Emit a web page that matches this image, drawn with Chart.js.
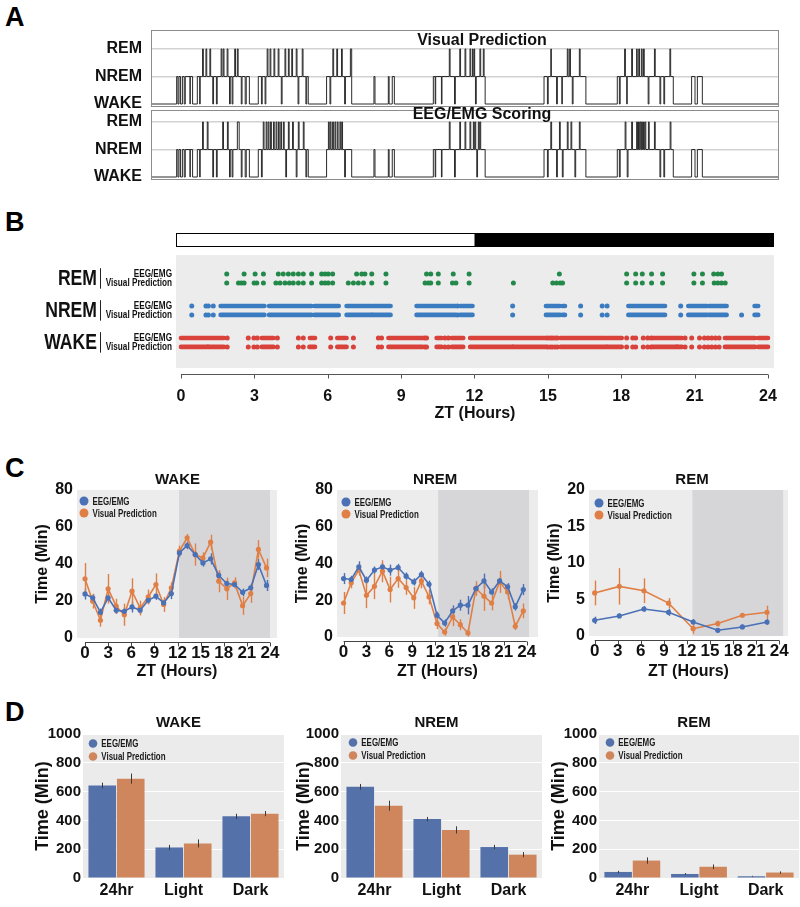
<!DOCTYPE html>
<html><head><meta charset="utf-8">
<script src="https://cdn.jsdelivr.net/npm/chart.js@4.4.1/dist/chart.umd.min.js"></script>
<style>
html,body{margin:0;padding:0;background:#fff;}
#page{position:relative;width:800px;height:907px;overflow:hidden;font-family:"Liberation Sans",Arial,sans-serif;}
#page canvas{position:absolute;left:0;top:0;}
.lab{position:absolute;font-weight:bold;font-size:27px;line-height:27px;color:#000;}
</style></head><body><div id="page">
<div class="lab" style="left:5px;top:4px">A</div>
<div class="lab" style="left:5px;top:209px">B</div>
<div class="lab" style="left:5px;top:455px">C</div>
<div class="lab" style="left:5px;top:699px">D</div>
</div>
<script>
// ================= DATA =================
// Panel A: hypnograms, [time (h), stage] with stage 0=WAKE, 1=NREM, 2=REM
const stageNames = ['WAKE', 'NREM', 'REM'];
const hypnoVisual = [[0,0],
[0.98,1],[1.03,0],[1.07,1],[1.13,0],[1.2,1],[1.27,0],[1.31,1],[1.49,0],[1.5,1],[1.59,0],
[1.77,1],[1.86,0],[1.88,1],[1.97,2],[2.0,1],[2.1,2],[2.13,1],[2.25,2],[2.28,1],[2.36,0],[2.39,1],[2.5,0],[2.53,1],[2.68,2],[2.71,1],[2.76,2],[2.79,1],[2.91,2],[2.94,1],[3.0,0],[3.03,1],[3.1,0],[3.13,1],[3.2,2],[3.23,1],[3.3,2],[3.33,1],[3.45,0],[3.48,1],[3.6,0],[3.64,1],[3.76,0],
[4.10,1],[4.22,0],[4.25,1],[4.36,0],[4.39,1],[4.44,2],[4.47,1],[4.55,2],[4.58,1],[4.7,2],[4.73,1],[4.86,2],[4.89,1],[4.98,0],[5.01,1],[5.12,2],[5.15,1],[5.25,2],[5.28,1],[5.38,2],[5.41,1],[5.55,2],[5.58,1],[5.62,0],[5.65,1],[5.78,2],[5.81,1],[5.92,0],[5.95,1],[6.01,0],
[6.71,1],[6.84,0],[6.87,1],[6.95,2],[6.98,1],[7.1,2],[7.13,1],[7.28,2],[7.31,1],[7.4,0],[7.43,1],[7.62,2],[7.67,0],
[8.52,1],[8.56,0],[9.07,1],[9.1,0],[9.22,1],[9.3,0],
[10.79,1],[10.86,0],[10.88,1],[11.1,0],[11.12,1],[11.4,2],[11.43,1],[11.6,0],[11.63,1],[11.8,2],[11.83,1],[12.0,2],[12.03,1],[12.19,2],[12.22,1],[12.29,2],[12.31,1],[12.35,2],[12.37,1],[12.4,0],[12.43,1],[12.57,2],[12.6,1],[12.7,2],[12.73,1],[12.77,0],
[15.02,1],[15.15,0],[15.18,1],[15.28,2],[15.3,1],[15.5,0],[15.53,1],[15.7,0],[15.72,1],[15.91,2],[15.94,1],[16.0,2],[16.03,1],[16.1,0],[16.13,1],[16.37,2],[16.4,1],[16.62,0],
[17.82,1],[17.9,0],[17.93,1],[18.1,2],[18.13,1],[18.18,0],[18.2,1],[18.37,2],[18.4,1],[18.56,2],[18.58,1],[18.64,2],[18.67,1],[18.74,2],[18.77,1],[18.82,2],[18.85,1],[19.0,0],[19.03,1],[19.24,2],[19.27,1],[19.45,0],[19.48,1],[19.6,0],[19.63,1],[19.83,2],[19.86,1],[19.96,0],
[20.66,1],[20.79,0],[20.88,1],[21.07,0],[24,0]];
const hypnoEEG = [[0,0],
[0.98,1],[1.03,0],[1.07,1],[1.13,0],[1.2,1],[1.27,0],[1.31,1],[1.49,0],[1.5,1],[1.59,0],
[1.77,1],[1.86,0],[1.88,1],[1.97,2],[2.0,1],[2.15,2],[2.18,1],[2.36,0],[2.39,1],[2.5,0],[2.53,1],[2.74,2],[2.77,1],[2.92,2],[2.95,1],[3.0,0],[3.03,1],[3.1,0],[3.13,1],[3.3,2],[3.37,1],[3.45,0],[3.48,1],[3.6,0],[3.64,1],[3.76,0],
[4.10,1],[4.22,0],[4.25,1],[4.29,2],[4.32,1],[4.4,2],[4.43,1],[4.48,2],[4.51,1],[4.57,2],[4.6,1],[4.68,2],[4.71,1],[4.78,2],[4.81,1],[4.87,2],[4.9,1],[4.96,2],[4.99,1],[5.06,2],[5.09,1],[5.15,0],[5.18,1],[5.25,2],[5.28,1],[5.41,2],[5.44,1],[5.55,0],[5.58,1],[5.63,2],[5.66,1],[5.82,2],[5.85,1],[5.92,0],[5.95,1],[6.01,0],
[6.71,1],[6.78,2],[6.81,1],[6.85,2],[6.88,1],[6.94,2],[6.97,1],[7.03,2],[7.06,1],[7.12,2],[7.15,1],[7.22,2],[7.25,1],[7.29,2],[7.32,1],[7.4,0],[7.43,1],[7.67,0],
[8.52,1],[8.56,0],[9.07,1],[9.1,0],[9.22,1],[9.3,0],
[10.79,1],[10.86,0],[10.88,1],[11.1,0],[11.12,1],[11.4,2],[11.43,1],[11.6,0],[11.63,1],[11.8,2],[11.83,1],[12.0,2],[12.03,1],[12.19,2],[12.22,1],[12.32,2],[12.35,1],[12.38,2],[12.41,1],[12.45,0],[12.48,1],[12.51,2],[12.54,1],[12.57,2],[12.6,1],[12.77,0],
[15.02,1],[15.15,0],[15.18,1],[15.28,2],[15.31,1],[15.5,0],[15.53,1],[15.61,2],[15.64,1],[15.72,0],[15.75,1],[15.91,2],[15.94,1],[16.05,2],[16.08,1],[16.2,0],[16.23,1],[16.37,2],[16.4,1],[16.62,0],
[17.82,1],[17.9,0],[17.93,1],[18.12,2],[18.15,1],[18.2,0],[18.23,1],[18.37,2],[18.4,1],[18.56,2],[18.59,1],[18.63,2],[18.66,1],[18.69,2],[18.72,1],[18.75,2],[18.78,1],[18.82,2],[18.85,1],[18.88,2],[18.91,1],[19.01,2],[19.04,1],[19.24,2],[19.27,1],[19.45,0],[19.48,1],[19.6,0],[19.63,1],[19.84,2],[19.87,1],[19.96,0],
[20.66,1],[20.79,0],[20.88,1],[21.07,0],[24,0]];

// Panel B: raster epochs (ZT hours); a number = single epoch, [start,end] = run
const remEEG = [1.87,2.58,3.03,3.37,3.98,4.18,4.39,4.59,4.80,5.00,5.34,5.75,5.89,6.02,6.20,7.18,7.39,7.52,7.80,8.38,10.04,10.21,10.52,11.13,11.78,15.47,18.22,18.59,18.86,19.24,19.69,20.97,21.32,21.78,21.95,22.1];
const remVisual = [1.87,2.35,2.47,2.58,2.99,3.1,3.37,3.88,4.05,4.25,4.43,4.59,4.80,5.00,5.34,5.75,5.89,6.02,6.20,6.84,7.05,7.25,7.46,7.80,8.38,9.98,10.11,10.21,10.52,11.1,11.24,11.78,13.59,15.2,15.35,15.5,15.6,18.22,18.59,18.86,19.24,19.69,20.97,21.32,21.8,21.95,22.1,22.25];
const nremEEG = [0.44,1.02,1.12,1.32,[1.62,3.41],[3.60,5.34],[5.46,6.45],[6.77,7.8],[7.85,8.57],[9.63,11.22],11.30,[11.41,11.92],13.56,[14.92,15.5],[15.6,15.7],16.34,17.22,17.42,[18.29,19.79],20.43,[20.74,21.5],[21.58,22.31],[23.45,23.6]];
const nremVisual = [0.44,1.02,1.12,1.32,[1.62,3.41],[3.60,5.34],[5.46,6.45],[6.77,7.8],[7.85,8.57],[9.63,11.22],11.30,[11.41,11.92],13.56,[14.92,15.5],[15.6,15.7],16.34,17.22,17.42,[18.29,19.79],20.43,[20.74,21.5],[21.58,22.31],22.92,[23.45,23.6]];
const wakeEEG = [[0,1.08],[1.12,1.76],1.89,2.75,2.98,3.12,[3.30,3.78],3.94,4.80,5.00,[5.27,5.48],6.12,[6.39,6.77],7.05,8.07,8.20,[8.48,9.88],9.95,10.04,[10.45,10.66],10.79,10.93,[11.07,11.54],[11.82,13.55],[13.59,14.92],14.98,15.09,15.18,15.29,15.39,[15.52,17.38],[17.43,18.02],18.22,18.47,18.59,18.90,19.08,19.22,[19.28,20.26],[20.29,20.48],20.61,20.88,21.2,21.4,21.55,21.7,21.85,22.0,[22.24,23.47],[23.6,24.0]];
const wakeVisual = [[0,1.08],[1.12,1.76],1.89,2.75,2.98,3.12,[3.30,3.78],3.94,4.80,5.00,[5.25,5.48],6.12,[6.39,6.77],7.05,8.07,8.20,[8.48,9.88],9.97,10.04,[10.45,10.66],10.79,10.93,[11.07,11.54],[11.82,13.55],[13.59,14.92],14.98,15.09,15.18,15.29,15.39,[15.52,17.38],[17.43,18.02],18.22,18.47,18.59,18.90,19.08,19.22,[19.28,20.26],[20.29,20.48],20.61,20.88,21.2,21.4,21.55,21.7,21.85,22.0,[22.24,23.47],[23.6,24.0]];
const rasterScorers = ['EEG/EMG', 'Visual Prediction'];
const ztTicks = [0,3,6,9,12,15,18,21,24];

// Panel C: time per hour / per 3 h bin
const ztHourly = [0,1,2,3,4.05,5.1,6.1,7.15,8.2,9.2,10.2,11.2,12.25,13.25,14.3,15.3,16.3,17.35,18.4,19.4,20.45,21.5,22.5,23.55];
const wakeHourlyEEG = [23.8,21.7,13.9,21.7,15.0,14.4,16.8,15.0,20.4,22.6,19.0,24.0,46.0,50.0,45.1,40.6,42.8,33.8,29.4,28.9,24.7,27.1,39.7,28.4];
const wakeHourlyEEGErr = [3,2,2,2,2,2,3,2,2,2,2,3,2,2,2,2,3,2,2,2,2,2,3,3];
const wakeHourlyVP = [32.0,19.9,9.6,26.6,17.2,12.6,25.3,16.2,22.2,28.9,18.1,27.1,47.0,54.2,45.1,43.3,51.8,30.7,26.6,29.8,17.5,24.0,47.9,37.9];
const wakeHourlyVPErr = [8.5,4,3.5,8,4,6,7,4,4,6,4,3,3,2,6,3,4,6,6,3,5,5,5,5];
const nremHourlyEEG = [31.8,31.3,38.2,30.9,36.4,38.2,36.4,37.8,33.1,30.0,34.0,28.7,11.8,7.6,14.2,17.3,17.3,26.4,30.5,24.5,30.5,27.3,16.4,25.8];
const nremHourlyEEGErr = [3,2,3,2,2,2,3,2,2,2,2,2,2,2,3,3,5,2,4,2,2,2,2,3];
const nremHourlyVP = [18.5,29.5,36.4,22.7,27.6,35.8,25.8,31.8,26.9,21.3,30.5,21.8,7.3,2.7,10.9,6.7,2.2,26.4,22.2,18.5,30.0,24.5,5.8,14.2];
const nremHourlyVPErr = [6,3,3,7,7,6,7,5,4,6,4,4,3,2,5,3,2,4,8,4,6,4,2,4];
const zt3h = [0,3.2,6.4,9.6,12.8,16,19.2,22.4];
const rem3hEEG = [2.15,2.75,3.7,3.25,1.92,0.78,1.24,1.92];
const rem3hEEGErr = [0.5,0.3,0.4,0.5,0.4,0.3,0.3,0.4];
const rem3hVP = [5.9,6.8,6.2,4.5,1.0,1.7,2.84,3.25];
const rem3hVPErr = [1.7,2.5,1.7,0.7,0.7,0.4,0.3,0.9];

// Panel D: total time (min)
const periods = ['24hr', 'Light', 'Dark'];
const wakeTotEEG = [642, 212, 428], wakeTotEEGErr = [20, 18, 18];
const wakeTotVP = [690, 240, 447], wakeTotVPErr = [35, 28, 18];
const nremTotEEG = [633, 409, 215], nremTotEEGErr = [20, 15, 15];
const nremTotVP = [502, 334, 162], nremTotVPErr = [35, 25, 18];
const remTotEEG = [42, 28, 12], remTotEEGErr = [8, 6, 3];
const remTotVP = [121, 78, 38], remTotVPErr = [22, 16, 8];

// ================= DRAWING =================
const W = 800, H = 907;
const SANS = '"Liberation Sans", Arial, sans-serif';
const BLUE = '#4a70b5', ORANGE = '#e07f45', BAR_BLUE = '#5471a9', BAR_ORANGE = '#cf865d';
const page = document.getElementById('page');
Chart.defaults.font.family = SANS;
Chart.defaults.color = '#111';

function mk() { const c = document.createElement('canvas'); c.width = W; c.height = H; page.appendChild(c); return c; }
function pad(a, wy, hx) { return {left: a[0] - wy, top: a[1], right: W - a[2], bottom: H - a[3] - hx}; }
function baseOpts(padding) {
  return {responsive: false, animation: false, devicePixelRatio: 1, events: [], layout: {padding},
    plugins: {legend: {display: false}, tooltip: {enabled: false}, title: {display: false}}};
}
const bold = (size) => ({family: SANS, size, weight: 'bold'});
// condensed text: real text drawn with a horizontal squeeze
function narrowText(c, text, x, y, font, sx, align) {
  c.save(); c.font = font; c.textAlign = align; c.textBaseline = 'middle'; c.translate(x, y); c.scale(sx, 1); c.fillText(text, 0, 0); c.restore();
}

function frameP(color) {
  return {id: 'frame', afterDraw(ch) { const a = ch.chartArea, c = ch.ctx; c.save(); c.strokeStyle = color; c.lineWidth = 1;
    c.strokeRect(Math.round(a.left) + 0.5, Math.round(a.top) + 0.5, Math.round(a.right - a.left) - 1, Math.round(a.bottom - a.top) - 1); c.restore(); }};
}
function textP(items) {
  return {id: 'texts', afterDraw(ch) { const c = ch.ctx; c.save();
    items.forEach(t => { c.font = t.font; c.fillStyle = t.color || '#111'; c.textAlign = t.align || 'center'; c.textBaseline = 'middle';
      const x = typeof t.x === 'function' ? t.x(ch) : t.x; c.fillText(t.text, x, t.y); });
    c.restore(); }};
}
function legendP(dx, dy, gap, r) {
  return {id: 'ilegend', afterDraw(ch) { const a = ch.chartArea, c = ch.ctx; c.save();
    ch.data.datasets.forEach((d, i) => { const x = a.left + dx, y = a.top + dy + i * gap;
      c.fillStyle = d.legendColor; c.beginPath(); c.arc(x, y, r, 0, Math.PI * 2); c.fill();
      c.fillStyle = '#1a1a1a'; narrowText(c, d.label, x + r + 4, y + 0.5, 'bold 11.5px ' + SANS, 0.69, 'left'); });
    c.restore(); }};
}
function errP(color, width, before) {
  const fn = ch => { const c = ch.ctx, ys = ch.scales.y; c.save(); c.lineWidth = width;
    ch.data.datasets.forEach((d, di) => { if (!d.errors) return; const meta = ch.getDatasetMeta(di);
      c.strokeStyle = color || d.borderColor;
      meta.data.forEach((el, i) => { const raw = d.data[i]; const v = typeof raw === 'object' ? raw.y : raw; const e = d.errors[i];
        const x = Math.round(el.x) + 0.5; c.beginPath(); c.moveTo(x, ys.getPixelForValue(v + e)); c.lineTo(x, ys.getPixelForValue(v - e)); c.stroke(); }); });
    c.restore(); };
  return before ? {id: 'err', beforeDatasetsDraw: fn} : {id: 'err', afterDatasetsDraw: fn};
}
function shadeP(light, dark, range) {
  return {id: 'shade', beforeDraw(ch) { const a = ch.chartArea, c = ch.ctx, xs = ch.scales.x; c.save();
    c.fillStyle = light; c.fillRect(a.left, a.top, a.right - a.left, a.bottom - a.top);
    if (range) { const x0 = xs.getPixelForValue(range[0]), x1 = xs.getPixelForValue(range[1]); c.fillStyle = dark; c.fillRect(x0, a.top, x1 - x0, a.bottom - a.top); }
    c.restore(); }};
}
function axisP(from, to, dy, tickLen, color) {
  return {id: 'axisl', afterDraw(ch) { const a = ch.chartArea, c = ch.ctx, xs = ch.scales.x; const y = Math.round(a.bottom + dy) + 0.5;
    c.save(); c.strokeStyle = color; c.lineWidth = 1; c.beginPath();
    c.moveTo(xs.getPixelForValue(from), y); c.lineTo(xs.getPixelForValue(to), y);
    xs.ticks.forEach(t => { const x = Math.round(xs.getPixelForValue(t.value)) + 0.5; c.moveTo(x, y); c.lineTo(x, y + tickLen); });
    c.stroke(); c.restore(); }};
}

// ---------- Panel A ----------
function hypno(data, area, yMin, yMax, title, titleY) {
  const wy = 62;
  const o = baseOpts(pad(area, wy, 0));
  o.scales = {
    x: {type: 'linear', min: 0, max: 24, display: false},
    y: {type: 'linear', min: yMin, max: yMax, afterFit: s => { s.width = wy; },
      afterBuildTicks: s => { s.ticks = [0, 1, 2].map(v => ({value: v})); },
      ticks: {callback: v => stageNames[v], font: bold(16), color: '#111', padding: 9},
      grid: {color: c => (c.tick && c.tick.value > 0) ? '#d2d2d2' : 'rgba(0,0,0,0)', lineWidth: 1.5, drawTicks: false},
      border: {display: false}}
  };
  new Chart(mk(), {type: 'line', data: {datasets: [{data: data.map(p => ({x: p[0], y: p[1]})), stepped: 'before',
      borderColor: '#2a2a2a', borderWidth: 1, pointRadius: 0, fill: false}]}, options: o,
    plugins: [frameP('#8c8c8c'), textP([{text: title, x: 482, y: titleY, font: 'bold 16px ' + SANS}])]});
}
hypno(hypnoVisual, [151, 30, 779, 107], -0.109, 2.69, 'Visual Prediction', 41);
hypno(hypnoEEG, [151, 110, 779, 180], -0.109, 2.436, 'EEG/EMG Scoring', 114.5);

// ---------- Panel B ----------
(function () {
  const area = [176, 233, 774, 368], wy = 100, hx = 55;
  const rows = [
    {stage: 'REM', level: 2, scorer: 0, data: remEEG, color: '#23894a'},
    {stage: 'REM', level: 2, scorer: 1, data: remVisual, color: '#23894a'},
    {stage: 'NREM', level: 1, scorer: 0, data: nremEEG, color: '#3b7cc0'},
    {stage: 'NREM', level: 1, scorer: 1, data: nremVisual, color: '#3b7cc0'},
    {stage: 'WAKE', level: 0, scorer: 0, data: wakeEEG, color: '#d9413b'},
    {stage: 'WAKE', level: 0, scorer: 1, data: wakeVisual, color: '#d9413b'}];
  const rowY = r => r.level + (r.scorer === 0 ? 0.14 : -0.14);
  const datasets = [];
  rows.forEach(r => {
    const y = rowY(r);
    const items = r.data.map(v => typeof v === 'number' ? [v, v] : v);
    const segs = items.filter(s => s[1] > s[0]), dots = items.filter(s => s[1] === s[0]);
    if (segs.length) datasets.push({data: segs.flatMap(s => [{x: s[0], y}, {x: s[1], y}, {x: s[1], y: null}]),
      borderColor: r.color, borderWidth: 4.6, borderCapStyle: 'round', pointRadius: 0, spanGaps: false, fill: false});
    if (dots.length) datasets.push({data: dots.map(s => ({x: s[0], y})), showLine: false, pointRadius: 2.5,
      pointBorderWidth: 0, pointBackgroundColor: r.color, backgroundColor: r.color, borderColor: r.color});
  });
  const decor = {id: 'rasterDecor',
    beforeDraw(ch) { const a = ch.chartArea, c = ch.ctx, xs = ch.scales.x, ys = ch.scales.y; c.save();
      const gTop = ys.getPixelForValue(2.73); c.fillStyle = '#ececec'; c.fillRect(a.left, gTop, a.right - a.left, a.bottom - gTop);
      const bBot = Math.round(ys.getPixelForValue(2.98)); const xm = xs.getPixelForValue(12);
      c.fillStyle = '#fff'; c.fillRect(a.left, a.top, xm - a.left, bBot - a.top);
      c.fillStyle = '#000'; c.fillRect(xm, a.top, a.right - xm, bBot - a.top);
      c.strokeStyle = '#000'; c.lineWidth = 1; c.strokeRect(a.left + 0.5, a.top + 0.5, a.right - a.left - 1, bBot - a.top - 1);
      c.restore(); },
    afterDraw(ch) { const c = ch.ctx, ys = ch.scales.y, a = ch.chartArea; c.save(); c.fillStyle = '#111';
      [['REM', 2], ['NREM', 1], ['WAKE', 0]].forEach(([t, l]) => {
        const yc = ys.getPixelForValue(l); narrowText(c, t, 97, yc + 1, 'bold 22px ' + SANS, 0.8, 'right');
        c.strokeStyle = '#222'; c.lineWidth = 1; c.beginPath(); c.moveTo(100.5, ys.getPixelForValue(l + 0.32)); c.lineTo(100.5, ys.getPixelForValue(l - 0.32)); c.stroke(); });
      rows.forEach(r => narrowText(c, rasterScorers[r.scorer], a.left - 4, ys.getPixelForValue(rowY(r)), 'bold 10.5px ' + SANS, 0.78, 'right'));
      c.restore(); }};
  const o = baseOpts(pad(area, wy, hx));
  o.scales = {
    x: {type: 'linear', min: -0.204, max: 24.245, afterFit: s => { s.height = hx; },
      afterBuildTicks: s => { s.ticks = ztTicks.map(v => ({value: v})); },
      grid: {display: false, drawTicks: false}, border: {display: false},
      ticks: {font: bold(16), color: '#111', padding: 19, autoSkip: false, maxRotation: 0},
      title: {display: true, text: 'ZT (Hours)', font: bold(16), color: '#111', padding: 0}},
    y: {type: 'linear', min: -0.8, max: 3.42, afterFit: s => { s.width = wy; },
      grid: {display: false, drawTicks: false}, border: {display: false}, ticks: {display: false}}
  };
  new Chart(mk(), {type: 'line', data: {datasets}, options: o, plugins: [decor, axisP(0, 24, 6, 4, '#555')]});
})();

// ---------- Panel C ----------
function lineChart(p) {
  const o = baseOpts(pad(p.area, p.wy, p.hx));
  o.scales = {
    x: {type: 'linear', min: p.xMin, max: p.xMax, afterFit: s => { s.height = p.hx; },
      afterBuildTicks: s => { s.ticks = ztTicks.map(v => ({value: v})); },
      grid: {display: false, drawTicks: false}, border: {display: false},
      ticks: {font: bold(17), color: '#111', padding: 5, autoSkip: false, maxRotation: 0},
      title: {display: true, text: 'ZT (Hours)', font: bold(16), color: '#111', padding: 0}},
    y: {type: 'linear', min: 0, max: p.yMax, afterFit: s => { s.width = p.wy; },
      ticks: {stepSize: p.yStep, font: bold(16), color: '#111', padding: 4},
      grid: {display: false, drawTicks: false}, border: {display: false},
      title: {display: true, text: 'Time (Min)', font: bold(16), color: '#111', padding: 0}}
  };
  const ds = (label, ys, errs, col) => ({label, legendColor: col, data: p.xs.map((x, i) => ({x, y: ys[i]})), errors: errs,
    borderColor: col, backgroundColor: col, pointBackgroundColor: col, pointBorderWidth: 0, pointRadius: 2.6, borderWidth: 1.6, fill: false});
  new Chart(mk(), {type: 'line', data: {datasets: [ds('EEG/EMG', p.eeg, p.eegErr, BLUE), ds('Visual Prediction', p.vp, p.vpErr, ORANGE)]},
    options: o, plugins: [shadeP('#ececec', '#d6d6d9', p.dark), errP(null, 1.4, true), axisP(0, 24, 3.5, 4, '#444'),
      textP([{text: p.title, x: ch => ch.scales.x.getPixelForValue(12) + (p.tdx || 0), y: 480, font: 'bold 15px ' + SANS}]),
      legendP(p.lx, p.ly, 12, 4.5)]});
}
lineChart({area: [77, 490, 277, 638], wy: 44, hx: 43, xMin: -1.04, xMax: 24.91, yMax: 80, yStep: 20, xs: ztHourly,
  eeg: wakeHourlyEEG, eegErr: wakeHourlyEEGErr, vp: wakeHourlyVP, vpErr: wakeHourlyVPErr, dark: [12.2, 24.0], title: 'WAKE', lx: 7, ly: 11});
lineChart({area: [337, 490, 538, 637], wy: 44, hx: 44, xMin: -0.86, xMax: 25.48, yMax: 80, yStep: 20, xs: ztHourly,
  eeg: nremHourlyEEG, eegErr: nremHourlyEEGErr, vp: nremHourlyVP, vpErr: nremHourlyVPErr, dark: [12.4, 24.3], title: 'NREM', lx: 9, ly: 12});
lineChart({area: [589, 490, 788, 636], wy: 44, hx: 45, xMin: -0.74, xMax: 25.13, yMax: 20, yStep: 5, xs: zt3h,
  eeg: rem3hEEG, eegErr: rem3hEEGErr, vp: rem3hVP, vpErr: rem3hVPErr, dark: [12.7, 24.5], title: 'REM', tdx: 5, lx: 10, ly: 13});

// ---------- Panel D ----------
function barChart(p) {
  const hx = 25;
  const o = baseOpts(pad(p.area, p.wy, hx));
  o.scales = {
    x: {type: 'category', afterFit: s => { s.height = hx; }, grid: {display: false, drawTicks: false}, border: {display: false},
      ticks: {font: bold(16), color: '#111', padding: 3}},
    y: {type: 'linear', min: 0, max: 1000, afterFit: s => { s.width = p.wy; },
      ticks: {stepSize: 200, font: bold(15), color: '#111', padding: 2, callback: v => String(v)},
      grid: {color: '#ffffff', lineWidth: 1, drawTicks: false}, border: {display: false},
      title: {display: true, text: 'Time (Min)', font: bold(18), color: '#111', padding: 0}}
  };
  const ds = (label, v, e, col) => ({label, legendColor: col, data: v, errors: e, backgroundColor: col, borderWidth: 0,
    categoryPercentage: 0.85, barPercentage: 0.97});
  new Chart(mk(), {type: 'bar', data: {labels: periods, datasets: [ds('EEG/EMG', p.eeg, p.eegErr, BAR_BLUE), ds('Visual Prediction', p.vp, p.vpErr, BAR_ORANGE)]},
    options: o, plugins: [shadeP('#ebebeb'), errP('#3a3a3a', 1, false),
      textP([{text: p.title, x: ch => (ch.chartArea.left + ch.chartArea.right) / 2 - 5, y: 723, font: 'bold 15px ' + SANS}]),
      legendP(p.lx, p.ly, 13, 4.3)]});
}
barChart({area: [83, 734, 284, 878], wy: 51, eeg: wakeTotEEG, eegErr: wakeTotEEGErr, vp: wakeTotVP, vpErr: wakeTotVPErr, title: 'WAKE', lx: 10, ly: 9.5});
barChart({area: [341, 734, 542, 878], wy: 48, eeg: nremTotEEG, eegErr: nremTotEEGErr, vp: nremTotVP, vpErr: nremTotVPErr, title: 'NREM', lx: 12, ly: 8.5});
barChart({area: [599, 734, 799, 878], wy: 51, eeg: remTotEEG, eegErr: remTotEEGErr, vp: remTotVP, vpErr: remTotVPErr, title: 'REM', lx: 11, ly: 8.5});
</script></body></html>
